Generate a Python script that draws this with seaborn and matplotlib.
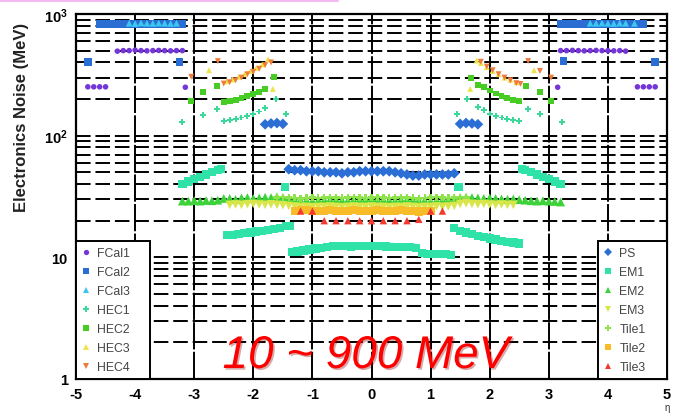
import numpy as np
import pandas as pd
import matplotlib
matplotlib.use("Agg")
import matplotlib.pyplot as plt
from matplotlib.lines import Line2D
import matplotlib.patheffects as pe
import seaborn as sns

# ---------------- data (eta, noise in MeV) ----------------
FCAL1_ETA = [-4.8, -4.7, -4.6, -4.5, -4.3, -4.2, -4.1, -4.0, -3.9, -3.8, -3.7, -3.6, -3.5, -3.4, -3.3, -3.2, -3.15,
             3.15, 3.2, 3.3, 3.4, 3.5, 3.6, 3.7, 3.8, 3.9, 4.0, 4.1, 4.2, 4.3, 4.5, 4.6, 4.7, 4.8]
FCAL1_MEV = [252, 252, 252, 252, 495, 500, 500, 505, 500, 498, 500, 502, 500, 498, 500, 500, 250,
             250, 500, 500, 502, 500, 498, 500, 502, 500, 500, 498, 500, 495, 252, 252, 252, 252]

FCAL2_ETA = [-4.8, -4.6, -4.5, -4.4, -4.3, -4.2, -4.1, -4.0, -3.9, -3.8, -3.7, -3.6, -3.5, -3.4, -3.3, -3.2, -3.25,
             3.25, 3.2, 3.3, 3.4, 3.5, 3.6, 3.7, 3.8, 3.9, 4.0, 4.1, 4.2, 4.3, 4.4, 4.5, 4.6, 4.8]
FCAL2_MEV = [405, 828, 825, 830, 828, 830, 828, 826, 830, 828, 830, 828, 826, 830, 828, 825, 405,
             410, 825, 828, 830, 828, 830, 826, 828, 830, 828, 826, 830, 828, 830, 825, 828, 405]

FCAL3_ETA = [-4.1, -4.0, -3.9, -3.8, -3.7, -3.6, -3.5, -3.4, -3.3,
             3.7, 3.8, 3.9, 4.0, 4.1, 4.2, 4.3, 4.45]
FCAL3_MEV = [840, 835, 845, 840, 838, 842, 840, 836, 840,
             840, 838, 842, 840, 836, 842, 840, 838]

HEC1_ETA = [-3.2, -2.85, -2.62, -2.5, -2.4, -2.3, -2.2, -2.1, -2.0, -1.9, -1.8, -1.62, -1.45,
            1.45, 1.62, 1.8, 1.9, 2.0, 2.1, 2.2, 2.3, 2.4, 2.5, 2.65, 2.85, 3.22]
HEC1_MEV = [130, 148, 166, 133, 135, 137, 141, 145, 150, 158, 170, 200, 150,
            150, 200, 172, 162, 152, 146, 141, 137, 134, 132, 166, 150, 130]

HEC2_ETA = [-3.05, -2.85, -2.62, -2.5, -2.4, -2.3, -2.2, -2.1, -2.0, -1.9, -1.8, -1.65,
            1.69, 1.8, 1.9, 2.0, 2.1, 2.2, 2.3, 2.4, 2.5, 2.62, 2.85, 3.04]
HEC2_MEV = [193, 229, 255, 189, 193, 198, 205, 212, 220, 228, 240, 305,
            300, 262, 250, 235, 222, 212, 205, 198, 193, 255, 229, 193]

HEC3_ETA = [-2.75, -2.45, -2.35, -2.25, -2.15, -2.05, -1.95, -1.85, -1.75, -1.67,
            1.67, 1.78, 1.85, 1.95, 2.05, 2.15, 2.25, 2.35, 2.45, 2.75]
HEC3_MEV = [345, 280, 290, 305, 320, 340, 360, 385, 425, 242,
            242, 415, 395, 365, 340, 320, 300, 288, 275, 345]

HEC4_ETA = [-3.05, -2.6, -2.5, -2.4, -2.3, -2.2, -2.1, -2.0, -1.9, -1.8, -1.7,
            1.85, 1.95, 2.05, 2.15, 2.25, 2.35, 2.45, 2.52, 2.65, 2.85, 3.04]
HEC4_MEV = [305, 410, 268, 275, 285, 300, 320, 335, 355, 380, 400,
            405, 370, 345, 320, 300, 285, 270, 266, 411, 340, 300]

PS_ETA = [-1.8, -1.7, -1.6, -1.5,
          -1.4, -1.3, -1.2, -1.1, -1.0, -0.9, -0.8, -0.7, -0.6, -0.5, -0.4, -0.3, -0.2, -0.1, 0.0,
          0.1, 0.2, 0.3, 0.4, 0.5, 0.6, 0.7, 0.8, 0.9, 1.0, 1.1, 1.2, 1.3, 1.4,
          1.5, 1.6, 1.7, 1.8]
PS_MEV = [124, 126, 127, 125,
          53, 52, 52, 51, 51, 51, 50, 50, 50, 49, 50, 50, 51, 51, 51,
          51, 51, 51, 50, 49, 48, 47, 47, 48, 48, 48, 48, 48, 49,
          125, 127, 126, 124]

EM1_ETA = [-3.2, -3.1, -3.0, -2.9, -2.8, -2.7, -2.6, -2.55,
           -2.45, -2.35, -2.25, -2.15, -2.05, -1.95, -1.85, -1.75, -1.65, -1.55, -1.45, -1.38,
           -1.46,
           -1.35, -1.25, -1.15, -1.05, -0.95, -0.85, -0.75, -0.65, -0.55, -0.45, -0.35, -0.25, -0.15, -0.05,
           0.05, 0.15, 0.25, 0.35, 0.45, 0.55, 0.65, 0.75, 0.85, 0.95, 1.05, 1.15, 1.25, 1.35,
           1.47,
           1.4, 1.5, 1.6, 1.7, 1.8, 1.9, 2.0, 2.1, 2.2, 2.3, 2.4, 2.5,
           2.55, 2.6, 2.7, 2.8, 2.9, 3.0, 3.1, 3.2]
EM1_MEV = [40, 42, 44, 46, 48, 50, 52, 53,
           15.2, 15.3, 15.6, 15.8, 16.0, 16.3, 16.5, 16.8, 17.0, 17.5, 18.0, 18.2,
           38,
           11.0, 11.2, 11.4, 11.6, 11.8, 12.0, 12.2, 12.4, 12.4, 12.4, 12.3, 12.4, 12.4, 12.4,
           12.4, 12.4, 12.3, 12.2, 12.2, 12.2, 12.1, 12.0, 10.8, 10.7, 10.7, 10.6, 10.6, 10.5,
           38,
           17.5, 16.5, 16.0, 15.5, 15.0, 14.7, 14.3, 14.0, 13.7, 13.4, 13.2, 13.0,
           53, 52, 50, 48, 46, 44, 42, 40]

EM2_ETA = [-3.2, -3.1, -3.0, -2.9, -2.8, -2.7, -2.6, -2.5, -2.4, -2.3, -2.2, -2.1, -2.0, -1.9, -1.8, -1.7,
           -1.6, -1.5, -1.4, -1.3, -1.2, -1.1, -1.0, -0.9, -0.8, -0.7, -0.6, -0.5, -0.4, -0.3, -0.2, -0.1,
           0.0, 0.1, 0.2, 0.3, 0.4, 0.5, 0.6, 0.7, 0.8, 0.9, 1.0, 1.1, 1.2, 1.3, 1.4, 1.5, 1.6, 1.7,
           1.8, 1.9, 2.0, 2.1, 2.2, 2.3, 2.4, 2.5, 2.6, 2.7, 2.8, 2.9, 3.0, 3.1, 3.2]
EM2_MEV = [29, 29, 29.2, 29, 29.3, 29.2, 29.5, 30.5, 30.5, 30, 30.8, 31, 30.5, 30.8, 31.2, 31,
           31.5, 31, 30.5, 30, 29.5, 29.5, 29.2, 29.5, 29.8, 30, 29.8, 29.5, 29.5, 29.8, 30, 30.2,
           30.2, 30, 29.8, 29.5, 29.5, 29.8, 30, 29.8, 29.5, 29.5, 29.2, 29.5, 29.8, 30, 30.5, 31, 31.2, 31,
           30.8, 30.5, 30.8, 30.5, 30.2, 30, 30.2, 29.8, 29.5, 29.2, 29, 29.2, 29, 28.8, 28.5]

EM3_ETA = [-2.4, -2.3, -2.2, -2.1, -2.0, -1.9, -1.8, -1.7, -1.6, -1.5, -1.4, -1.3, -1.2, -1.1, -1.0,
           -0.9, -0.8, -0.7, -0.6, -0.5, -0.4, -0.3, -0.2, -0.1, 0.0, 0.1, 0.2, 0.3, 0.4, 0.5,
           0.6, 0.7, 0.8, 0.9, 1.0, 1.1, 1.2, 1.3, 1.4, 1.5, 1.6, 1.7, 1.8, 1.9, 2.0, 2.1, 2.2, 2.3, 2.4]
EM3_MEV = [27, 27.2, 27, 27.3, 27.5, 27.2, 27, 27.3, 27, 26.8, 26.5, 26.2, 26, 26, 25.8,
           26, 26, 26.2, 26, 25.8, 26, 26.2, 26, 26, 26.2, 26, 26, 25.8, 26, 26,
           26.2, 26, 25.8, 26, 26, 26.2, 26, 26.2, 26.5, 27.5, 27.8, 27.5, 27.3, 27.5, 27.2, 27, 27.2, 27, 27]

TILE1_ETA = [-1.6, -1.5, -1.4, -1.3, -1.2, -1.1, -1.0, -0.9, -0.8, -0.7, -0.6, -0.5, -0.4, -0.3, -0.2, -0.1,
             0.0, 0.1, 0.2, 0.3, 0.4, 0.5, 0.6, 0.7, 0.8, 0.9, 1.0, 1.1, 1.2, 1.3, 1.4, 1.5, 1.6]
TILE1_MEV = [31, 31.2, 31, 30.8, 30.5, 30.8, 31, 30.8, 31, 31.2, 31, 30.8, 31, 31.2, 31, 30.8,
             31, 31.2, 31, 30.8, 31, 31.2, 31, 30.8, 30.5, 30.8, 31, 31.2, 31, 30.8, 31, 31.2, 31]

TILE2_ETA = [-1.3, -1.2, -1.1, -1.0, -0.9, -0.8, -0.7, -0.6, -0.5, -0.4, -0.3, -0.2, -0.1,
             0.0, 0.1, 0.2, 0.3, 0.4, 0.5, 0.6, 0.7, 0.8, 0.9, 1.0]
TILE2_MEV = [24.2, 24.5, 24.3, 24.2, 24, 24.2, 24.4, 24.2, 24, 24.2, 24.3, 24.1, 24,
             24.2, 24.3, 24.1, 24, 24.2, 24.4, 24.2, 24, 23.8, 24, 24.2]

TILE3_ETA = [-1.2, -1.0, -0.8, -0.6, -0.4, -0.2, 0.0, 0.2, 0.4, 0.6, 0.8, 1.0, 1.2]
TILE3_MEV = [24, 24, 20, 20, 20, 20, 20, 20, 20, 20, 20.5, 24, 24]

LEFT_LABELS = ["FCal1", "FCal2", "FCal3", "HEC1", "HEC2", "HEC3", "HEC4"]
RIGHT_LABELS = ["PS", "EM1", "EM2", "EM3", "Tile1", "Tile2", "Tile3"]
X_TICKS = [-5, -4, -3, -2, -1, 0, 1, 2, 3, 4, 5]
Y_TICKS = [1, 10, 100, 1000]
Y_TICKLABELS = ["1", "10", r"$\mathregular{10^{2}}$", r"$\mathregular{10^{3}}$"]

# ---------------- styles ----------------
STYLE = {
    "FCal1": dict(color="#7436d8", marker="o", s=16),
    "FCal2": dict(color="#2a6ed4", marker="s", s=30),
    "FCal3": dict(color="#3cc8ee", marker="^", s=24),
    "HEC1": dict(color="#3cd89a", marker="P", s=18),
    "HEC2": dict(color="#46cc22", marker="s", s=18),
    "HEC3": dict(color="#eee44a", marker="^", s=18),
    "HEC4": dict(color="#f07a3a", marker="v", s=18),
    "PS": dict(color="#2a6ed6", marker="D", s=30),
    "EM1": dict(color="#2ee2a8", marker="s", s=36),
    "EM2": dict(color="#3ed23a", marker="^", s=40),
    "EM3": dict(color="#d8e64a", marker="v", s=38),
    "Tile1": dict(color="#8ee24a", marker="P", s=26),
    "Tile2": dict(color="#f8bc28", marker="s", s=34),
    "Tile3": dict(color="#f23a30", marker="^", s=28),
}

DATA = {
    "FCal1": (FCAL1_ETA, FCAL1_MEV), "FCal2": (FCAL2_ETA, FCAL2_MEV), "FCal3": (FCAL3_ETA, FCAL3_MEV),
    "HEC1": (HEC1_ETA, HEC1_MEV), "HEC2": (HEC2_ETA, HEC2_MEV), "HEC3": (HEC3_ETA, HEC3_MEV),
    "HEC4": (HEC4_ETA, HEC4_MEV), "PS": (PS_ETA, PS_MEV), "EM1": (EM1_ETA, EM1_MEV),
    "EM2": (EM2_ETA, EM2_MEV), "EM3": (EM3_ETA, EM3_MEV), "Tile1": (TILE1_ETA, TILE1_MEV),
    "Tile2": (TILE2_ETA, TILE2_MEV), "Tile3": (TILE3_ETA, TILE3_MEV),
}
DRAW_ORDER = ["EM2", "Tile1", "EM3", "Tile2", "Tile3", "PS", "EM1",
              "HEC1", "HEC2", "HEC3", "HEC4", "FCal1", "FCal2", "FCal3"]

frames = []
for name, (e, v) in DATA.items():
    frames.append(pd.DataFrame({"eta": e, "noise": v, "layer": name}))
df = pd.concat(frames, ignore_index=True)

# ---------------- figure ----------------
sns.set_style("white")
plt.rcParams["font.family"] = ["Liberation Sans", "DejaVu Sans"]
plt.rcParams["mathtext.fontset"] = "custom"
plt.rcParams["mathtext.rm"] = "Liberation Sans:bold"

fig = plt.figure(figsize=(6.77, 4.14), dpi=100)
ax = fig.add_axes([76 / 677, 1 - 380 / 414, 591 / 677, 365 / 414])

for name in DRAW_ORDER:
    st = STYLE[name]
    sub = df[df["layer"] == name]
    sns.scatterplot(data=sub, x="eta", y="noise", ax=ax, color=st["color"], marker=st["marker"],
                    s=st["s"], linewidth=0, edgecolor="none", legend=False, zorder=3)

ax.set_yscale("log")
ax.set_xlim(-5, 5)
ax.set_ylim(1, 1000)

# grid
ax.set_axisbelow(True)
ax.yaxis.grid(True, which="both", color="black", linewidth=1.4, linestyle=(0, (7.5, 2.5)))
ax.xaxis.grid(True, which="major", color="black", linewidth=1.4, linestyle=(0, (14, 1.2)))

ax.set_xticks(X_TICKS)
ax.set_xticklabels([str(t) for t in X_TICKS])
ax.set_xticks([t / 5 for t in range(-25, 26) if t % 5 != 0], minor=True)
ax.set_yticks(Y_TICKS)
ax.set_yticklabels(Y_TICKLABELS)
ax.tick_params(axis="both", which="major", direction="in", length=9, width=1.4,
               labelsize=10.5, colors="black", pad=6)
ax.tick_params(axis="x", which="minor", direction="in", length=5, width=1.2)
ax.tick_params(axis="y", which="minor", direction="in", length=5, width=1.2)
for lab in ax.get_xticklabels() + ax.get_yticklabels():
    lab.set_fontweight("bold")
for sp in ax.spines.values():
    sp.set_color("black")
    sp.set_linewidth(1.6)

ax.set_xlabel("")
ax.set_ylabel("Electronics Noise (MeV)", fontsize=12, fontweight="bold", color="#222222")
ax.yaxis.set_label_coords(-0.080, 0.72)


def handles(names):
    hs = []
    for n in names:
        st = STYLE[n]
        hs.append(Line2D([], [], linestyle="none", marker=st["marker"], color=st["color"],
                         markersize=3.8, markeredgewidth=0))
    return hs


leg_kw = dict(frameon=True, fancybox=False, framealpha=1, edgecolor="black", fontsize=8.8,
              handlelength=0.8, handletextpad=0.5, labelspacing=0.58, borderpad=0.45,
              borderaxespad=0, labelcolor="#444444", loc="lower left", mode="expand")
leg1 = ax.legend(handles(LEFT_LABELS), LEFT_LABELS,
                 bbox_to_anchor=(0, 0, 74 / 591, 136 / 365), **leg_kw)
leg1.get_frame().set_linewidth(1.4)
leg1.set_zorder(5)
ax.add_artist(leg1)
leg2 = ax.legend(handles(RIGHT_LABELS), RIGHT_LABELS,
                 bbox_to_anchor=(1 - 69 / 591, 0, 69 / 591, 136 / 365), **leg_kw)
leg2.get_frame().set_linewidth(1.4)
leg2.set_zorder(5)

fig.text(366 / 677, 1 - 357 / 414, "10 ~ 900 MeV", color="red", fontsize=33, style="italic",
         ha="center", va="center",
         path_effects=[pe.withSimplePatchShadow(offset=(1.2, -1.2), shadow_rgbFace="#8a1010", alpha=0.35)])
fig.text(667 / 677, 1 - 408.5 / 414, "η", fontsize=7, ha="center", va="center", color="#333333")
fig.add_artist(Line2D([0, 337 / 677], [1 - 1.2 / 414, 1 - 1.2 / 414], color="#f6b8f0", linewidth=2.2))

fig.savefig("out.png", dpi=100)
